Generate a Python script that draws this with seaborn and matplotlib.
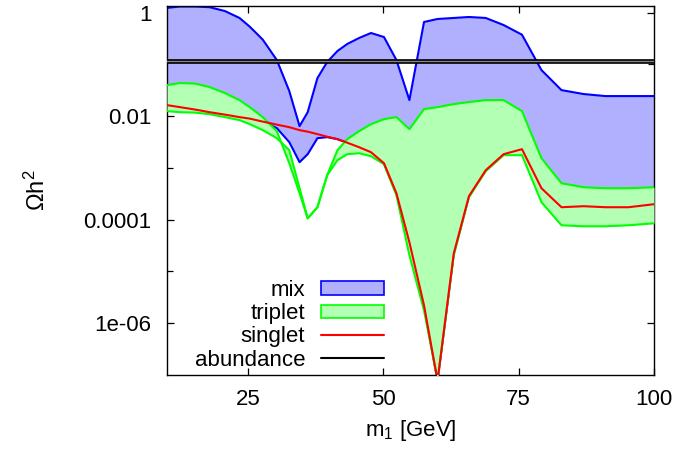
import numpy as np
import pandas as pd
import matplotlib
matplotlib.use("Agg")
import matplotlib.pyplot as plt
import seaborn as sns
from matplotlib.patches import Patch
from matplotlib.lines import Line2D
from matplotlib.ticker import FixedLocator, FixedFormatter, NullFormatter

# ---- data ----
m1 = [10, 12.4, 15.2, 17.9, 20.7, 23.4, 25.3, 27.7, 30.3, 32.6, 34.5, 36.0,
      37.8, 39.6, 41.5, 43.3, 45.5, 47.7, 50.1, 52.4, 54.8, 57.5, 60.0, 63.0,
      65.8, 68.9, 72.2, 75.6, 79.2, 82.9, 87.0, 91.0, 95.3, 100]

mix_hi = [1.23, 1.31, 1.31, 1.27, 1.07, 0.787, 0.534, 0.300, 0.121, 0.0305,
          0.00641, 0.0119, 0.0543, 0.111, 0.181, 0.247, 0.323, 0.403, 0.337,
          0.121, 0.0204, 0.658, 0.752, 0.787, 0.822, 0.787, 0.575, 0.374,
          0.0776, 0.0318, 0.0267, 0.0244, 0.0244, 0.0244]

mix_lo = [0.0163, 0.0149, 0.0134, 0.0119, 0.0107, 0.00957, 0.00895, 0.00783,
          0.00586, 0.00314, 0.00129, 0.00184, 0.00375, 0.00393, 0.00359,
          0.00307, 0.00251, 0.00201, 0.00123, 3.24e-4, 3.65e-5, 2.21e-6,
          7.8e-8, 2.24e-5, 2.84e-4, 9.02e-4, 1.84e-3, 2.30e-3, 4.05e-4,
          1.74e-4, 1.82e-4, 1.74e-4, 1.74e-4, 1.99e-4]

triplet_a = [0.0398, 0.0435, 0.0425, 0.0364, 0.0279, 0.0204, 0.0149, 0.00957,
             0.00511, 0.00123, 3.24e-4, 1.06e-4, 1.74e-4, 7.22e-4, 2.20e-3,
             3.59e-3, 5.13e-3, 7.00e-3, 8.75e-3, 9.57e-3, 5.61e-3, 0.0137,
             0.0149, 0.0171, 0.0187, 0.0204, 0.0204, 0.0125, 1.54e-3, 5.06e-4,
             4.23e-4, 4.05e-4, 4.05e-4, 4.23e-4]

triplet_b = [0.0125, 0.0119, 0.0117, 0.0109, 0.00957, 0.00837, 0.00700,
             0.00536, 0.00375, 0.00220, 4.05e-4, 1.06e-4, 1.74e-4, 7.22e-4,
             1.41e-3, 1.84e-3, 1.92e-3, 1.68e-3, 1.18e-3, 2.96e-4, 2.05e-5,
             1.77e-6, 7.8e-8, 2.05e-5, 2.71e-4, 8.63e-4, 1.76e-3, 1.76e-3,
             2.17e-4, 7.80e-5, 7.45e-5, 7.45e-5, 7.80e-5, 8.51e-5]

singlet = [0.0163, 0.0149, 0.0134, 0.0119, 0.0107, 0.00957, 0.00895, 0.00783,
           0.00685, 0.00612, 0.00536, 0.00501, 0.00449, 0.00401, 0.00359,
           0.00307, 0.00251, 0.00201, 0.00123, 3.24e-4, 3.65e-5, 2.21e-6,
           7.8e-8, 2.24e-5, 2.84e-4, 9.02e-4, 1.84e-3, 2.30e-3, 4.05e-4,
           1.74e-4, 1.82e-4, 1.74e-4, 1.74e-4, 1.99e-4]

abundance = [0.1045, 0.124]

yticks = [1, 1e-2, 1e-4, 1e-6]
ytick_labels = ["1", "0.01", "0.0001", "1e-06"]
yminor = [1e-1, 1e-3, 1e-5]
xticks = [25, 50, 75, 100]

# ---- style ----
sns.set_theme(style="ticks")
plt.rcParams["font.family"] = ["Liberation Sans", "DejaVu Sans"]
plt.rcParams["mathtext.default"] = "regular"
plt.rcParams["text.color"] = "black"
plt.rcParams["axes.labelcolor"] = "black"

BLUE_FILL = "#b0b0ff"
GREEN_FILL = "#b3ffb3"

df = pd.DataFrame({"m1": m1, "mix_hi": mix_hi, "mix_lo": mix_lo,
                   "ta": triplet_a, "tb": triplet_b, "singlet": singlet})

fig = plt.figure(figsize=(6.8, 4.51), dpi=100)
ax = fig.add_axes([167/680, 1-375/451, (654-167)/680, (375-6)/451])

ax.set_yscale("log")

# mix band
ax.fill_between(df["m1"], df["mix_lo"], df["mix_hi"], color=BLUE_FILL, lw=0, zorder=1)
sns.lineplot(data=df, x="m1", y="mix_lo", ax=ax, color="#0000ff", lw=1.5,
             estimator=None, sort=False, zorder=2)
sns.lineplot(data=df, x="m1", y="mix_hi", ax=ax, color="#0000ff", lw=1.5,
             estimator=None, sort=False, zorder=2)
# triplet band
ax.fill_between(df["m1"], df["ta"], df["tb"], color=GREEN_FILL, lw=0, zorder=3)
sns.lineplot(data=df, x="m1", y="ta", ax=ax, color="#00ff00", lw=1.5,
             estimator=None, sort=False, zorder=4)
sns.lineplot(data=df, x="m1", y="tb", ax=ax, color="#00ff00", lw=1.5,
             estimator=None, sort=False, zorder=4)
# singlet
sns.lineplot(data=df, x="m1", y="singlet", ax=ax, color="#ff0000", lw=1.5,
             estimator=None, sort=False, zorder=5)
# abundance
ax.axhspan(abundance[0], abundance[1], color="#888888", lw=0, zorder=6)
for a in abundance:
    ax.axhline(a, color="black", lw=1.2, zorder=7)

ax.set_xlim(10, 100)
ax.set_ylim(1e-7, 1.34)

ax.xaxis.set_major_locator(FixedLocator(xticks))
ax.yaxis.set_major_locator(FixedLocator(yticks))
ax.yaxis.set_major_formatter(FixedFormatter(ytick_labels))
ax.yaxis.set_minor_locator(FixedLocator(yminor))
ax.yaxis.set_minor_formatter(NullFormatter())
ax.xaxis.set_minor_locator(FixedLocator([]))

ax.tick_params(axis="both", which="both", direction="in", top=True, right=True,
               colors="black", labelsize=16, width=0.9)
ax.tick_params(axis="both", which="major", length=5)
ax.tick_params(axis="y", which="minor", length=4)
ax.tick_params(axis="y", which="major", pad=11)
ax.tick_params(axis="x", which="major", pad=10)
for s in ax.spines.values():
    s.set_color("black")
    s.set_linewidth(1.0)

ax.set_xlabel("m$_1$ [GeV]", fontsize=16, labelpad=6)
ax.set_ylabel("Ωh$^2$", fontsize=17, labelpad=24)

handles = [Patch(facecolor=BLUE_FILL, edgecolor="#0000ff", lw=1.2),
           Patch(facecolor=GREEN_FILL, edgecolor="#00ff00", lw=1.2),
           Line2D([], [], color="#ff0000", lw=1.5),
           Line2D([], [], color="black", lw=1.5)]
labels = ["mix", "triplet", "singlet", "abundance"]
leg = ax.legend(handles, labels, loc="lower right", bbox_to_anchor=(0.455, 0.0),
                frameon=False, markerfirst=False, fontsize=16, handlelength=2.85,
                handleheight=0.55, handletextpad=0.7, labelspacing=0.1,
                borderpad=0.2, borderaxespad=0.0)
leg.set_zorder(10)
for t in leg.get_texts():
    t.set_color("black")

fig.savefig("out.png", dpi=100)
